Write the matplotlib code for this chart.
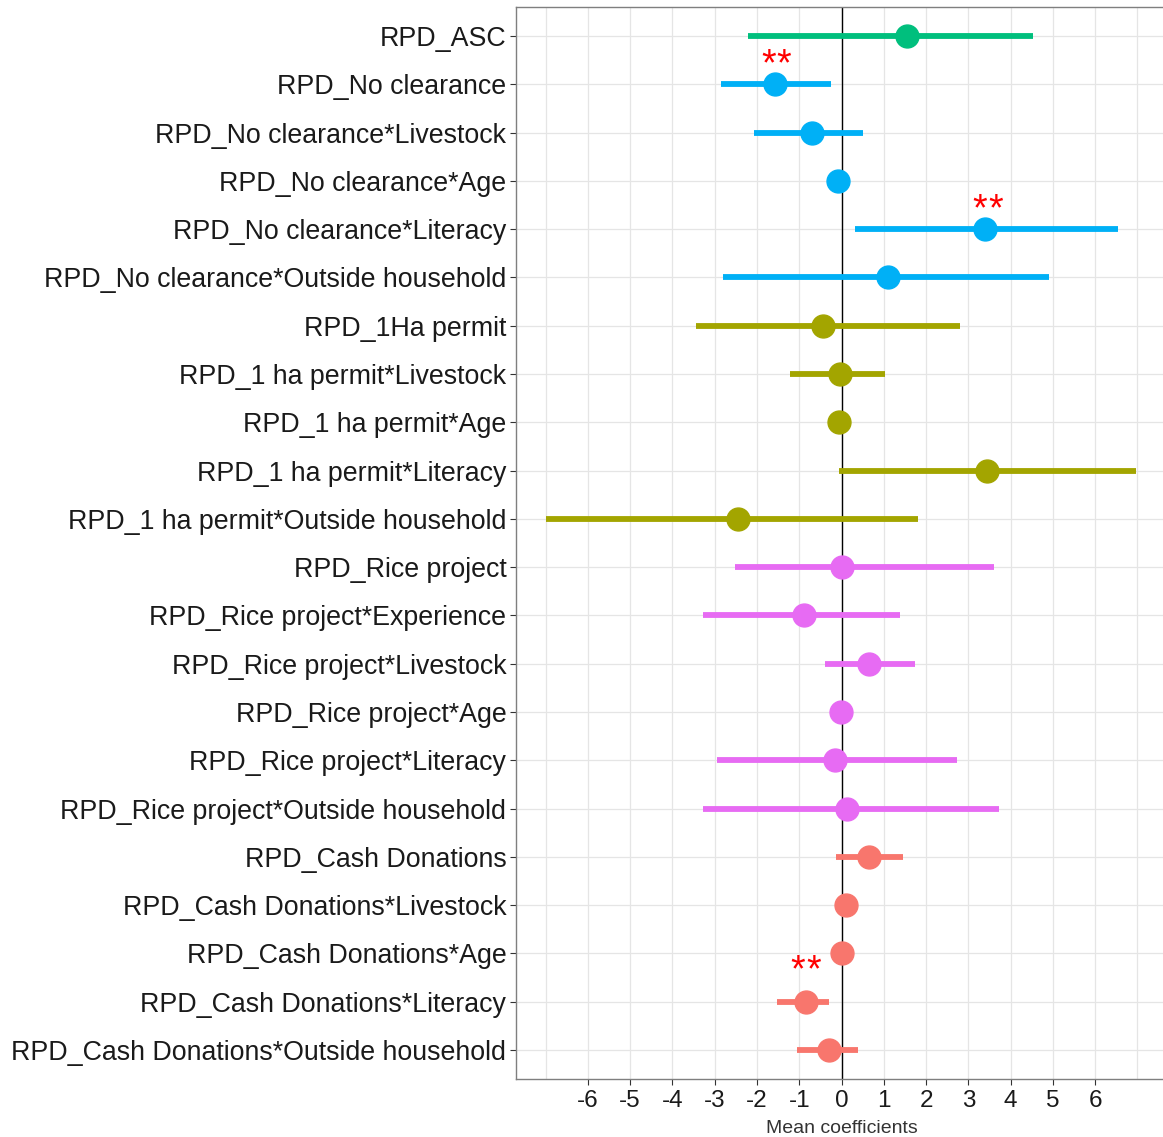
import matplotlib
matplotlib.use("Agg")
import matplotlib.pyplot as plt
from matplotlib.transforms import offset_copy
import numpy as np

plt.rcParams['font.family'] = ['Liberation Sans', 'DejaVu Sans']

labels = [
    "RPD_ASC",
    "RPD_No clearance",
    "RPD_No clearance*Livestock",
    "RPD_No clearance*Age",
    "RPD_No clearance*Literacy",
    "RPD_No clearance*Outside household",
    "RPD_1Ha permit",
    "RPD_1 ha permit*Livestock",
    "RPD_1 ha permit*Age",
    "RPD_1 ha permit*Literacy",
    "RPD_1 ha permit*Outside household",
    "RPD_Rice project",
    "RPD_Rice project*Experience",
    "RPD_Rice project*Livestock",
    "RPD_Rice project*Age",
    "RPD_Rice project*Literacy",
    "RPD_Rice project*Outside household",
    "RPD_Cash Donations",
    "RPD_Cash Donations*Livestock",
    "RPD_Cash Donations*Age",
    "RPD_Cash Donations*Literacy",
    "RPD_Cash Donations*Outside household",
]
groups = ["ASC",
          "NC", "NC", "NC", "NC", "NC",
          "HA", "HA", "HA", "HA", "HA",
          "RP", "RP", "RP", "RP", "RP", "RP",
          "CD", "CD", "CD", "CD", "CD"]
means = [1.55,
         -1.58, -0.70, -0.08, 3.39, 1.11,
         -0.43, -0.03, -0.06, 3.44, -2.46,
         0.00, -0.89, 0.64, -0.02, -0.15, 0.13,
         0.64, 0.10, 0.00, -0.84, -0.29]
lower = [-2.22,
         -2.85, -2.07, -0.12, 0.31, -2.80,
         -3.44, -1.22, -0.08, -0.06, -6.99,
         -2.52, -3.27, -0.39, -0.04, -2.95, -3.27,
         -0.12, 0.06, -0.02, -1.52, -1.05]
upper = [4.52,
         -0.26, 0.50, -0.04, 6.54, 4.91,
         2.81, 1.02, -0.04, 6.97, 1.81,
         3.60, 1.39, 1.74, 0.00, 2.73, 3.72,
         1.45, 0.14, 0.02, -0.29, 0.38]
group_colors = {"CD": "#F8766D", "HA": "#A3A500", "ASC": "#00BF7D",
                "NC": "#00B0F6", "RP": "#E76BF3"}

# significance markers: x value, row index (from top) they belong to
star_x = [-1.55, 3.46, -0.85]
star_row = [1, 4, 20]
star_off = [0.19, 0.19, 0.42]

xticks = [-6, -5, -4, -3, -2, -1, 0, 1, 2, 3, 4, 5, 6]

W, H = 1163, 1137
fig = plt.figure(figsize=(W / 100, H / 100), dpi=100)
left, right, bottom, top = 516, 1167, 1079, 7
ax = fig.add_axes([left / W, (H - bottom) / H, (right - left) / W, (bottom - top) / H])

n = len(labels)
ypos = np.array([n - i for i in range(n)])

for xg in range(-7, 8):
    ax.axvline(xg, color="#e5e5e5", lw=0.9, zorder=0)
for y in ypos:
    ax.axhline(y, color="#e5e5e5", lw=0.9, zorder=0)

ax.axvline(0, color="black", lw=1.0, zorder=1)

for i in range(n):
    c = group_colors[groups[i]]
    ax.plot([lower[i], upper[i]], [ypos[i], ypos[i]], color=c, lw=4.2,
            solid_capstyle="butt", zorder=2)
    ax.plot(means[i], ypos[i], "o", color=c, ms=16.5, mec=c, zorder=3)

for sx, sr, so in zip(star_x, star_row, star_off):
    for dx in (-5.6, 5.6):
        tr = offset_copy(ax.transData, fig=fig, x=dx, y=0, units="points")
        ax.text(sx, ypos[sr] + so, "*", color="red", fontsize=27,
                ha="center", va="baseline", zorder=4, transform=tr)

ax.set_xlim(-7.7, 7.7)
ax.set_ylim(0.4, n + 0.6)
ax.set_yticks(ypos)
ax.set_yticklabels(labels, fontsize=19.3, color="#1a1a1a")
ax.set_xticks(xticks)
ax.set_xticklabels([str(t) for t in xticks], fontsize=17.5, color="#1a1a1a")
ax.tick_params(axis="both", length=4, width=0.8, color="#333333", pad=3)
ax.tick_params(axis="x", pad=4)
ax.set_xlabel("Mean coefficients", fontsize=14, color="#333333", labelpad=6)

for s in ax.spines.values():
    s.set_color("#7f7f7f")
    s.set_linewidth(1.0)

fig.savefig("out.png", dpi=100)
